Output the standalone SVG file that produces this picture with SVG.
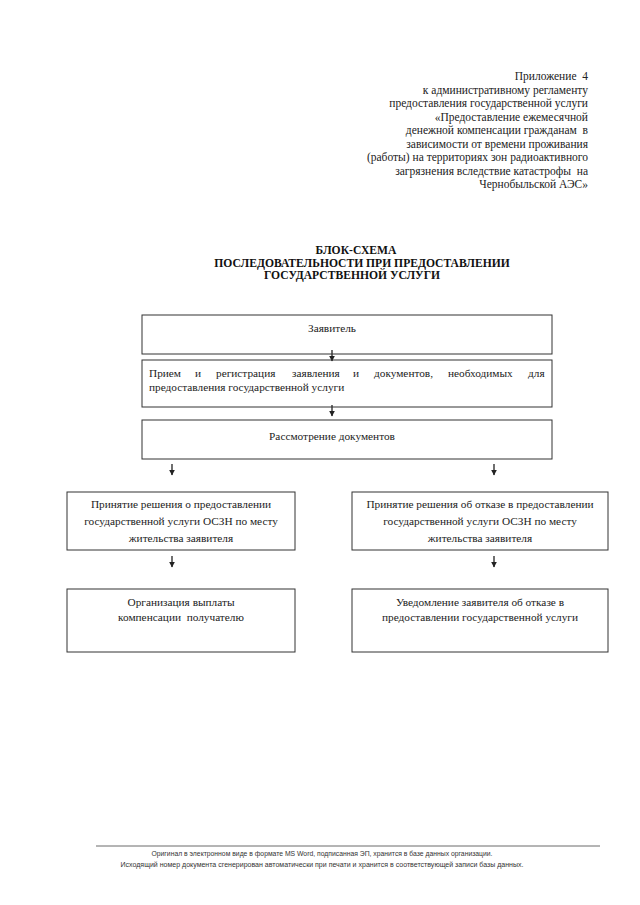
<svg xmlns="http://www.w3.org/2000/svg" width="640" height="905" viewBox="0 0 640 905">
<defs>
<style>
text{white-space:pre}
.hdr{font-family:"Liberation Serif","Times New Roman",serif;font-size:11.5px;fill:#222;text-anchor:end}
.ttl{font-family:"Liberation Serif","Times New Roman",serif;font-size:11.6px;font-weight:bold;fill:#111;text-anchor:middle}
.box{fill:none;stroke:#333;stroke-width:1}
.t{font-family:"Liberation Serif","Times New Roman",serif;font-size:11.3px;fill:#222}
.c{text-anchor:middle}
.con{stroke:#222;stroke-width:1.3;fill:none;marker-end:url(#ah)}
.ftr{font-family:"Liberation Sans",Arial,sans-serif;font-size:6.6px;fill:#333;text-anchor:middle}
</style>
<marker id="ah" viewBox="0 0 10 10" refX="9" refY="5" markerWidth="6" markerHeight="6" markerUnits="userSpaceOnUse" orient="auto">
<path d="M0,0 L10,5 L0,10 z" fill="#222"/>
</marker>
</defs>
<rect width="640" height="905" fill="#fff"/>

<g id="header">
<text class="hdr" x="588" y="80">Приложение  4</text>
<text class="hdr" x="588" y="93.5">к административному регламенту</text>
<text class="hdr" x="588" y="107">предоставления государственной услуги</text>
<text class="hdr" x="588" y="120.5">«Предоставление ежемесячной</text>
<text class="hdr" x="588" y="134">денежной компенсации гражданам  в</text>
<text class="hdr" x="588" y="147.5">зависимости от времени проживания</text>
<text class="hdr" x="588" y="161">(работы) на территориях зон радиоактивного</text>
<text class="hdr" x="588" y="174.5">загрязнения вследствие катастрофы  на</text>
<text class="hdr" x="588" y="188">Чернобыльской АЭС»</text>
</g>

<g id="title">
<text class="ttl" x="356" y="254">БЛОК-СХЕМА</text>
<text class="ttl" x="362" y="266.5">ПОСЛЕДОВАТЕЛЬНОСТИ ПРИ ПРЕДОСТАВЛЕНИИ</text>
<text class="ttl" x="352" y="279">ГОСУДАРСТВЕННОЙ УСЛУГИ</text>
</g>

<g id="connectors">
<line class="con" x1="332" y1="350" x2="332" y2="361"/>
<line class="con" x1="332" y1="405" x2="332" y2="416"/>
<line class="con" x1="172" y1="464" x2="172" y2="475"/>
<line class="con" x1="494" y1="464" x2="494" y2="475"/>
<line class="con" x1="172" y1="556" x2="172" y2="567"/>
<line class="con" x1="494" y1="556" x2="494" y2="567"/>
</g>

<g id="n1">
<rect class="box" x="142" y="315" width="410" height="39"/>
<text class="t c" x="332" y="332">Заявитель</text>
</g>

<g id="n2">
<rect class="box" x="142" y="360" width="410" height="47"/>
<text class="t" y="377"><tspan x="149">Прием</tspan><tspan x="195">и</tspan><tspan x="216">регистрация</tspan><tspan x="292">заявления</tspan><tspan x="353">и</tspan><tspan x="374">документов,</tspan><tspan x="448">необходимых</tspan><tspan x="528">для</tspan></text>
<text class="t" x="149" y="391">предоставления государственной услуги</text>
</g>

<g id="n3">
<rect class="box" x="142" y="420" width="410" height="39"/>
<text class="t c" x="332" y="440">Рассмотрение документов</text>
</g>

<g id="n4">
<rect class="box" x="67" y="492" width="228" height="58"/>
<text class="t c" x="181" y="508">Принятие решения о предоставлении</text>
<text class="t c" x="181" y="525">государственной услуги ОСЗН по месту</text>
<text class="t c" x="181" y="542">жительства заявителя</text>
</g>

<g id="n5">
<rect class="box" x="352" y="492" width="256" height="58"/>
<text class="t c" x="480" y="508">Принятие решения об отказе в предоставлении</text>
<text class="t c" x="480" y="525">государственной услуги ОСЗН по месту</text>
<text class="t c" x="480" y="542">жительства заявителя</text>
</g>

<g id="n6">
<rect class="box" x="67" y="589" width="228" height="63"/>
<text class="t c" x="181" y="606">Организация выплаты</text>
<text class="t c" x="181" y="621">компенсации  получателю</text>
</g>

<g id="n7">
<rect class="box" x="352" y="589" width="256" height="63"/>
<text class="t c" x="480" y="606">Уведомление заявителя об отказе в</text>
<text class="t c" x="480" y="621">предоставлении государственной услуги</text>
</g>

<g id="footer">
<line x1="96" y1="846" x2="600" y2="846" stroke="#444" stroke-width="0.8"/>
<text class="ftr" x="322" y="856" textLength="341" lengthAdjust="spacingAndGlyphs">Оригинал в электронном виде в формате MS Word, подписанная ЭП, хранится в базе данных организации.</text>
<text class="ftr" x="322" y="867" textLength="403" lengthAdjust="spacingAndGlyphs">Исходящий номер документа сгенерирован автоматически при печати и хранится в соответствующей записи базы данных.</text>
</g>
</svg>
